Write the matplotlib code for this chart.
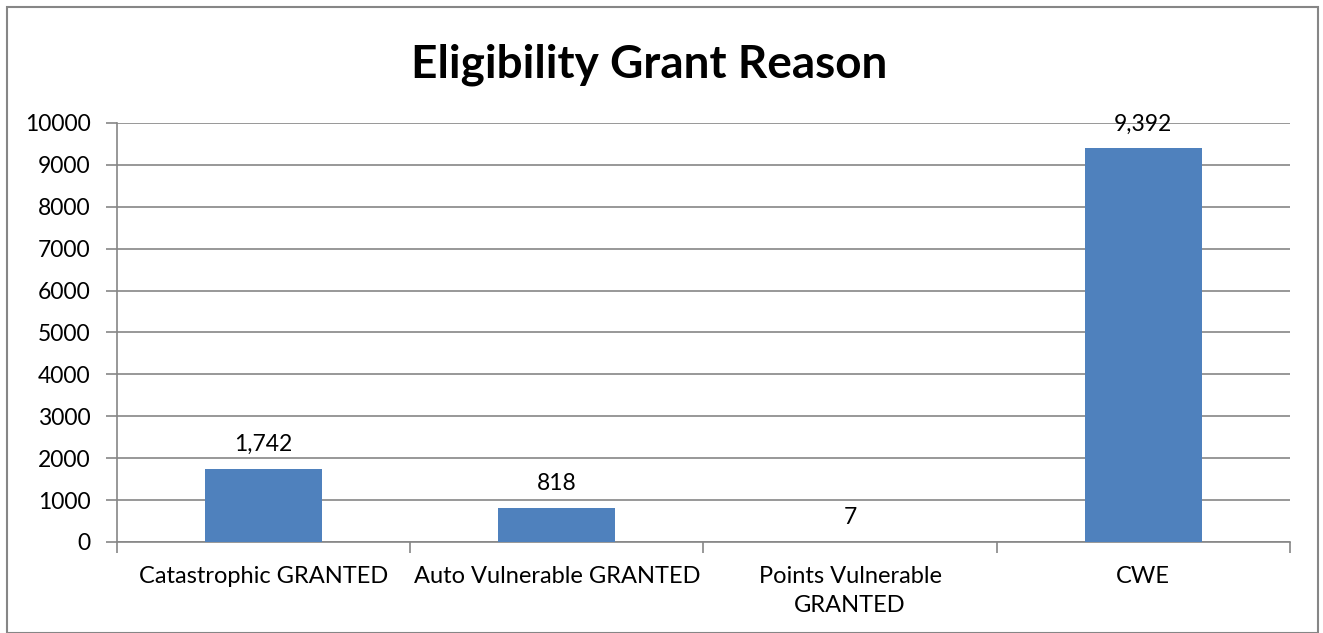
import matplotlib.pyplot as plt
import numpy as np
from matplotlib.patches import Rectangle

categories = ['Catastrophic GRANTED', 'Auto Vulnerable GRANTED', 'Points Vulnerable\nGRANTED', 'CWE']
values = [1742, 818, 7, 9392]
yticks = [0, 1000, 2000, 3000, 4000, 5000, 6000, 7000, 8000, 9000, 10000]

plt.rcParams['font.family'] = ['Lato', 'DejaVu Sans']

fig = plt.figure(figsize=(13.23, 6.33), dpi=100)
ax = fig.add_axes([0.0884, 0.1438, 0.8866, 0.662])

grid_col = '#868686'
x = np.arange(len(categories))
ax.bar(x, values, width=0.4, color='#4F81BD', zorder=3)

for xi, v in zip(x, values):
    ax.annotate(f'{v:,}', (xi, v), xytext=(0, 10), textcoords='offset points',
                ha='center', va='bottom', fontsize=16.5, color='#000000')

ax.set_xlim(-0.5, len(categories) - 0.5)
ax.set_ylim(0, 10000)
ax.set_yticks(yticks)
ax.set_yticklabels([str(t) for t in yticks], fontsize=16.5)
ax.yaxis.grid(True, color=grid_col, linewidth=1.2, zorder=0)

# category labels sit between the boundary ticks
ax.set_xticks(np.arange(-0.5, len(categories), 1.0))
ax.set_xticklabels([])
ax.set_xticks(x, minor=True)
ax.set_xticklabels(categories, minor=True, fontsize=17, va='top', linespacing=1.5)
ax.tick_params(axis='x', which='minor', length=0, pad=17)
ax.tick_params(axis='x', which='major', length=8, direction='out', color=grid_col, width=1.2)
ax.tick_params(axis='y', length=8, direction='out', color=grid_col, width=1.2, pad=11)

for s in ['top', 'right']:
    ax.spines[s].set_visible(False)
for s in ['left', 'bottom']:
    ax.spines[s].set_color(grid_col)
    ax.spines[s].set_linewidth(1.2)

fig.text(0.491, 0.898, 'Eligibility Grant Reason', ha='center', va='center',
         fontsize=33, fontweight='bold')

fig.patches.append(Rectangle((0.005, 0.0), 0.991, 0.989, transform=fig.transFigure,
                             fill=False, edgecolor='#868686', linewidth=1.5))

fig.savefig('out.png', dpi=100)
